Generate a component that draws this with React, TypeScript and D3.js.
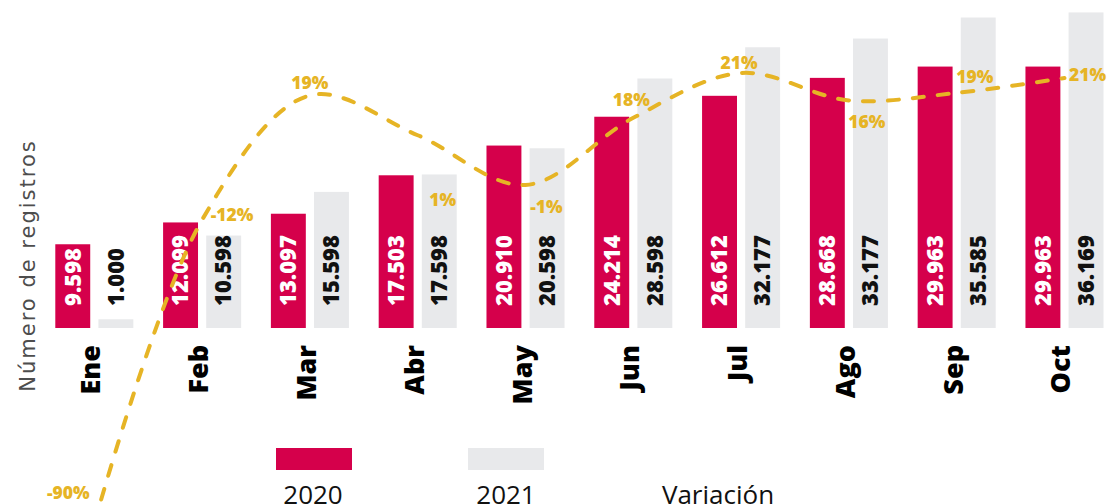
import React from 'react';
import * as d3 from 'd3';

// ---------- data ----------
const months = ['Ene', 'Feb', 'Mar', 'Abr', 'May', 'Jun', 'Jul', 'Ago', 'Sep', 'Oct'];
const seriesNames = ['2020', '2021'];
const values2020 = [9598, 12099, 13097, 17503, 20910, 24214, 26612, 28668, 29963, 29963];
const values2021 = [1000, 10598, 15598, 17598, 20598, 28598, 32177, 33177, 35585, 36169];
// variation labels as printed
const variationLabels = ['-90%', '-12%', '19%', '1%', '-1%', '18%', '21%', '16%', '19%', '21%'];
// the dashed curve as drawn in the picture (percent units on the secondary scale)
const variationCurve = [-69, -8, 17, 9, -1, 12.5, 21.5, 16, 17.5, 20.5];
const lineLegend = 'Variación';
const yTitle = 'Número de registros';

// ---------- layout / style ----------
const W = 1117;
const H = 504;
const BASE = 328;
const RED = '#D5004B';
const GRAY = '#E8E9EB';
const GOLD = '#E6B425';
// annotation offsets for the % labels relative to the curve point
const labelDx = [-26, 30, 0, 25, 21, -2, -2, 18, 18, 23];
const labelDy = [-31, -6, -13.5, 64, 21, -19, -11, 21, -17, -4];

const fmt = d3.formatLocale({ decimal: ',', thousands: '.', grouping: [3], currency: ['', ''] }).format(',d');

export default function App() {
  const x0 = d3.scaleBand<string>().domain(months).range([55.3, 1103.5]).paddingInner(0.276).paddingOuter(0);
  const x1 = d3.scaleBand<string>().domain(seriesNames).range([0, x0.bandwidth()]).paddingInner(0.19);
  const y = d3.scaleLinear().domain([0, 40000]).range([BASE, BASE - 349]);
  const y2 = d3.scaleLinear().domain([-1, 21]).range([185, 75.5]);

  const series = [values2020, values2021];
  const center = (m: string) => (x0(m) as number) + x0.bandwidth() / 2;

  const line = d3
    .line<number>()
    .x((_, i) => center(months[i]))
    .y((d) => y2(d))
    .curve(d3.curveCatmullRom.alpha(0.5));

  const font = "'Open Sans', sans-serif";

  return (
    <svg width={W} height={H} style={{ position: 'absolute', left: 0, top: 0, background: '#fff' }}>
      <defs>
        <linearGradient id="legGold" x1="0" x2="1" y1="0" y2="0">
          <stop offset="0" stopColor="#DDBB6C" />
          <stop offset="1" stopColor="#CF9A1C" />
        </linearGradient>
      </defs>

      {/* y title */}
      <text
        transform={`translate(35,265.5) rotate(-90)`}
        textAnchor="middle"
        fontFamily="'DejaVu Sans', sans-serif"
        fontSize={21}
        letterSpacing={2}
        fill="#4d4d4d"
      >
        {yTitle}
      </text>

      {/* bars */}
      {months.map((m, i) => (
        <g key={m} transform={`translate(${x0(m)},0)`}>
          {seriesNames.map((s, k) => {
            const v = series[k][i];
            const bx = x1(s) as number;
            const bw = x1.bandwidth();
            return (
              <g key={s}>
                <rect x={bx} y={y(v)} width={bw} height={BASE - y(v)} fill={k === 0 ? RED : GRAY} />
                <text
                  transform={`translate(${bx + bw / 2 + 7.8},${BASE - 22}) rotate(-90)`}
                  textAnchor="start"
                  fontFamily={font}
                  fontWeight={800}
                  fontSize={22}
                  fill={k === 0 ? '#ffffff' : '#111111'}
                >
                  {fmt(v)}
                </text>
              </g>
            );
          })}
          <text
            transform={`translate(${x0.bandwidth() / 2 + 6},345) rotate(-90)`}
            textAnchor="end"
            fontFamily={font}
            fontWeight={800}
            fontSize={27}
            fill="#000"
          >
            {m}
          </text>
        </g>
      ))}

      {/* variation curve */}
      <path
        d={line(variationCurve) || ''}
        fill="none"
        stroke={GOLD}
        strokeWidth={4}
        strokeDasharray="11 14"
        strokeLinecap="round"
      />
      {variationLabels.map((t, i) => (
        <text
          key={i}
          x={center(months[i]) + labelDx[i]}
          y={y2(variationCurve[i]) + labelDy[i]}
          textAnchor="middle"
          dominantBaseline="central"
          fontFamily={font}
          fontWeight={800}
          fontSize={17.5}
          fill={GOLD}
        >
          {t}
        </text>
      ))}

      {/* legend */}
      <rect x={276} y={448} width={76} height={22} fill={RED} />
      <rect x={468} y={448} width={76} height={22} fill={GRAY} />
      <line
        x1={681}
        x2={756}
        y1={455}
        y2={455}
        stroke="url(#legGold)"
        strokeWidth={4}
        strokeDasharray="14 15"
        strokeLinecap="round"
      />
      <g fontFamily={font} fontSize={26} fill="#111" textAnchor="middle">
        <text x={313} y={504}>{seriesNames[0]}</text>
        <text x={506} y={504}>{seriesNames[1]}</text>
        <text x={718} y={504}>{lineLegend}</text>
      </g>
    </svg>
  );
}
